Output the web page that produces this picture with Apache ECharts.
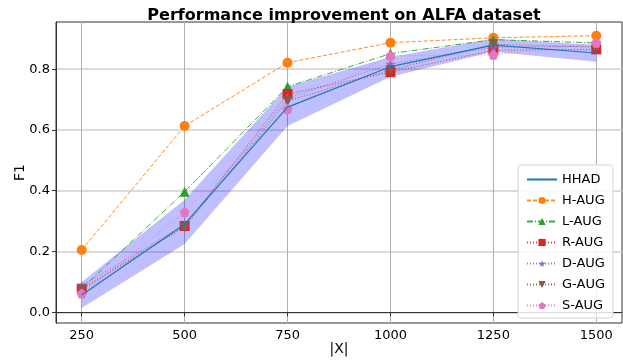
<!DOCTYPE html>
<html>
<head>
<meta charset="utf-8">
<script src="https://cdn.jsdelivr.net/npm/echarts@6/dist/echarts.min.js"></script>
<style>
  html, body { margin: 0; padding: 0; background: #fff; }
  #chart { width: 623px; height: 360px; }
</style>
</head>
<body>
<div id="chart"></div>
<script>
// 数据
var sizes = [250, 500, 750, 1000, 1250, 1500];
var yTicks = [0.0, 0.2, 0.4, 0.6, 0.8];
var hhad = [0.057, 0.290, 0.675, 0.808, 0.879, 0.853];
var bandLow = [0.014, 0.225, 0.613, 0.775, 0.857, 0.824];
var bandHigh = [0.100, 0.370, 0.742, 0.840, 0.900, 0.879];
var hAug = [0.205, 0.613, 0.821, 0.887, 0.903, 0.910];
var lAug = [0.078, 0.397, 0.742, 0.851, 0.897, 0.886];
var rAug = [0.078, 0.284, 0.718, 0.790, 0.862, 0.865];
var dAug = [0.088, 0.288, 0.705, 0.817, 0.872, 0.876];
var gAug = [0.075, 0.280, 0.695, 0.797, 0.882, 0.872];
var sAug = [0.062, 0.330, 0.668, 0.844, 0.847, 0.887];

(function() {
	var font = 'DejaVu Sans';
	var starPath = 'path://M50,0 L61,35 L98,35 L68,57 L79,91 L50,70 L21,91 L32,57 L2,35 L39,35 Z';
	var downTri = 'path://M0,0 L10,0 L5,10 Z';
	var pentagon = 'path://M50,0 L97.6,34.5 L79.4,90.5 L20.6,90.5 L2.4,34.5 Z';

	function pairs(arr) {
		var out = [];
		for(var i = 0; i < sizes.length; i++) {
			out.push([sizes[i], arr[i]]);
		}
		return out;
	}

	//各增强方法的线
	function augLine(name, data, color, type, symbol, size) {
		return {
			name: name,
			type: 'line',
			data: pairs(data),
			symbol: symbol,
			symbolSize: size,
			showSymbol: true,
			itemStyle: { color: color },
			lineStyle: { color: color, width: 1, type: type, opacity: 0.9 },
			z: 3
		};
	}

	var bandData = [];
	for(var b = 0; b < sizes.length; b++) {
		bandData.push([sizes[b], bandLow[b], bandHigh[b]]);
	}

	var myChart = echarts.init(document.getElementById('chart'), null, { renderer: 'canvas' });
	var option = {
		animation: false,
		textStyle: { fontFamily: font },
		title: {
			text: 'Performance improvement on ALFA dataset',
			left: 339,
			textAlign: 'center',
			top: 3,
			textStyle: { fontFamily: font, fontSize: 16, fontWeight: 'bold', color: '#000' }
		},
		grid: {
			left: 56,
			right: 1,
			top: 22,
			bottom: 37,
			outerBoundsMode: 'none',
			containLabel: false,
			show: true,
			borderColor: '#333',
			borderWidth: 1
		},
		legend: {
			orient: 'vertical',
			right: 10,
			bottom: 42,
			backgroundColor: 'rgba(255,255,255,0.85)',
			borderColor: '#d5d5d5',
			borderWidth: 1,
			borderRadius: 3,
			padding: [8, 8, 6, 8],
			itemWidth: 30,
			itemHeight: 9,
			itemGap: 8,
			textStyle: { fontFamily: font, fontSize: 13, color: '#000' },
			data: [
				{ name: 'HHAD', itemStyle: { opacity: 0 } },
				'H-AUG', 'L-AUG', 'R-AUG', 'D-AUG', 'G-AUG', 'S-AUG'
			]
		},
		xAxis: {
			type: 'value',
			min: 187.5,
			max: 1562.5,
			name: '|X|',
			nameLocation: 'middle',
			nameGap: 19,
			nameMoveOverlap: false,
			nameTextStyle: { fontFamily: font, fontSize: 14, color: '#000' },
			axisLine: { show: true, lineStyle: { color: '#333' } },
			axisTick: { show: true, customValues: sizes, length: 4, lineStyle: { color: '#333' } },
			axisLabel: {
				customValues: sizes,
				fontFamily: font,
				fontSize: 13,
				color: '#000',
				margin: 6,
				formatter: function(v) { return String(v); }
			},
			splitLine: { show: true, lineStyle: { color: '#b0b0b0', width: 1 } }
		},
		yAxis: {
			type: 'value',
			min: -0.035,
			max: 0.955,
			name: 'F1',
			nameLocation: 'middle',
			nameGap: 29,
			nameMoveOverlap: false,
			nameTextStyle: { fontFamily: font, fontSize: 14, color: '#000' },
			axisLine: { show: true, lineStyle: { color: '#333' } },
			axisTick: { show: true, customValues: yTicks, length: 4, lineStyle: { color: '#333' } },
			axisLabel: {
				customValues: yTicks,
				fontFamily: font,
				fontSize: 13,
				color: '#000',
				margin: 6,
				formatter: function(v) { return v.toFixed(1); }
			},
			splitLine: { show: true, lineStyle: { color: '#cfcfcf', width: 1.5 } }
		},
		series: [
			{
				name: 'band',
				type: 'custom',
				data: bandData,
				silent: true,
				z: 1,
				renderItem: function(params, api) {
					if(params.dataIndex !== 0) {
						return null;
					}
					var pts = [];
					for(var i = 0; i < bandData.length; i++) {
						pts.push(api.coord([bandData[i][0], bandData[i][2]]));
					}
					for(var j = bandData.length - 1; j >= 0; j--) {
						pts.push(api.coord([bandData[j][0], bandData[j][1]]));
					}
					return {
						type: 'polygon',
						shape: { points: pts },
						style: { fill: 'rgba(0,0,255,0.25)' }
					};
				}
			},
			{
				name: 'HHAD',
				type: 'line',
				data: pairs(hhad),
				symbol: 'none',
				itemStyle: { color: '#1f77b4' },
				lineStyle: { color: '#1f77b4', width: 1.2 },
				z: 4
			},
			augLine('H-AUG', hAug, '#ff7f0e', [4, 2], 'circle', 10),
			augLine('L-AUG', lAug, '#2ca02c', [6, 2, 1, 2], 'triangle', 10),
			augLine('R-AUG', rAug, '#d62728', [1, 2], 'rect', 10),
			augLine('D-AUG', dAug, '#9467bd', [1, 2], starPath, 10),
			augLine('G-AUG', gAug, '#8c564b', [1, 2], downTri, 10),
			augLine('S-AUG', sAug, '#e377c2', [1, 2], pentagon, 10)
		]
	};
	myChart.setOption(option);
})();
</script>
</body>
</html>
